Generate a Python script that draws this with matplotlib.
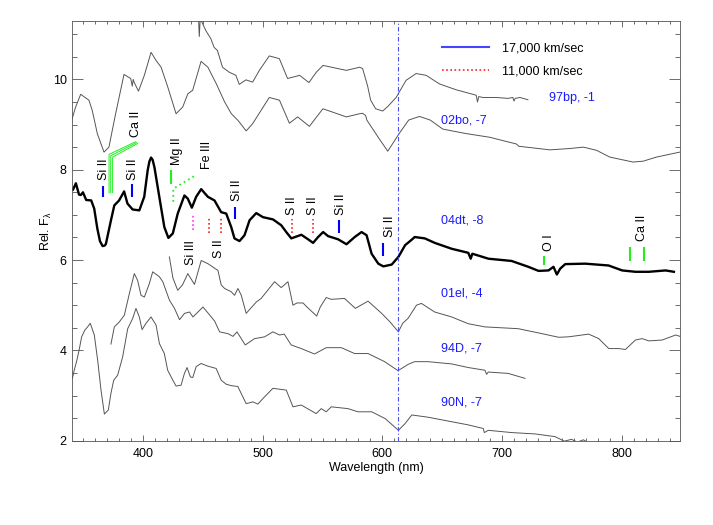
import numpy as np
import matplotlib
matplotlib.use("Agg")
import matplotlib.pyplot as plt
from matplotlib.lines import Line2D
from matplotlib.ticker import MultipleLocator

plt.rcParams['font.family'] = ['Liberation Sans', 'DejaVu Sans']
plt.rcParams['font.size'] = 9
plt.rcParams['mathtext.fontset'] = 'custom'
plt.rcParams['mathtext.rm'] = 'Liberation Sans'
plt.rcParams['mathtext.it'] = 'Liberation Sans'

# ---- spectra (wavelength nm, relative flux + offset) ----
wl_97bp = [446, 447, 447.8, 449, 452.5, 456.7, 459.4, 462.2, 466.4, 472, 477.6, 480.4, 486, 491.6,
           497.2, 505.5, 513.9, 520.8, 530.9, 538.6, 544.8, 550.4, 569.9, 581, 583.5, 587.7, 590.2,
           594.4, 600.3, 604.5, 611.5, 619.8, 628.2, 636.6, 647.7, 661.7, 678.4, 679.5, 680.5, 684,
           695, 705, 709, 710, 711, 715, 721.6]
fx_97bp = [11.6, 10.95, 11.35, 11.28, 11.08, 10.9, 10.71, 10.64, 10.27, 10.16, 10.09, 9.89, 9.99, 9.94,
           10.2, 10.52, 10.46, 10.02, 10.09, 9.93, 10.16, 10.31, 10.2, 10.27, 10.24, 9.85, 9.54,
           9.35, 9.3, 9.4, 9.6, 9.98, 10.13, 10.09, 9.9, 9.77, 9.65, 9.5, 9.62, 9.6,
           9.6, 9.58, 9.6, 9.52, 9.58, 9.6, 9.55]

wl_02bo = [340, 343.7, 347.9, 354.8, 357.6, 361.8, 367.4, 371.5, 377.1, 384.1, 389.7, 391, 391.8,
           392.5, 396.2, 401.1, 406.7, 410.9, 415.1, 420.7, 427.6, 433.2, 437.4, 441.5, 448.5, 454.2,
           461.3, 468.2, 473.8, 479.4, 486.2, 491.6, 505.5, 514, 522.3, 529.2, 539, 550.3, 569.9,
           581, 583.5, 586, 587, 589, 597, 604.5, 614, 622, 631, 640, 650.5, 670, 689.5, 712, 714,
           740, 756.5, 768, 779, 790, 809.5, 818, 829, 848.5]
fx_02bo = [9.06, 9.39, 9.67, 9.54, 9.31, 8.80, 8.39, 8.50, 9.24, 10.11, 10.02, 9.85, 10.0,
           9.94, 9.74, 10.09, 10.6, 10.42, 10.27, 9.83, 9.24, 9.39, 9.68, 9.76, 10.4, 10.27,
           9.9, 9.50, 9.24, 9.09, 8.86, 9.02, 9.60, 9.54, 9.03, 9.17, 8.96, 9.35, 9.17,
           9.24, 9.25, 9.2, 9.1, 9.02, 8.7, 8.41, 8.8, 9.1, 9.18, 9.1, 8.9, 8.8, 8.72, 8.57, 8.52,
           8.44, 8.47, 8.5, 8.43, 8.28, 8.17, 8.19, 8.28, 8.39]

wl_04dt = [341.5, 343.9, 346.5, 348.0, 349.8, 352.5, 356.7, 359.2, 361.8, 364.0, 366.2, 368.0, 369.0,
           373.2, 376.0, 380.0, 384.2, 387.0, 391.3, 396.9, 401.0, 403.9, 405.3, 406.7, 408.0, 409.5,
           413.6, 417.8, 421.2, 424.9, 429.0, 434.6, 437.4, 440.8, 444.4, 448.6, 454.2, 459.7, 465.3,
           469.5, 473.7, 476.4, 480.6, 484.8, 489.0, 494.6, 500.2, 508.6, 515.5, 519.7, 523.9, 532.3,
           537.9, 542.1, 546.3, 550.5, 554.6, 563.0, 570.0, 576.9, 582.6, 586.8, 591.0, 596.6, 600.8,
           607.8, 613.4, 619.0, 624.5, 627.0, 635.4, 643.8, 657.9, 671.8, 673.8, 675.2, 688.6, 708.0,
           722.0, 730.5, 738.8, 743.0, 745.8, 748.6, 752.8, 769.5, 789.0, 800.4, 811.5, 822.7, 836.6,
           843.6]
fx_04dt = [7.56, 7.70, 7.45, 7.44, 7.50, 7.33, 7.32, 7.14, 6.70, 6.42, 6.31, 6.32, 6.36,
           6.88, 7.21, 7.32, 7.52, 7.25, 7.12, 7.10, 7.40, 7.99, 8.18, 8.27, 8.22, 8.06,
           7.40, 6.73, 6.49, 6.59, 7.03, 7.43, 7.36, 7.16, 7.40, 7.57, 7.40, 7.32, 7.06,
           7.03, 6.73, 6.48, 6.42, 6.55, 6.88, 7.04, 6.95, 6.90, 6.77, 6.62, 6.48, 6.56,
           6.46, 6.38, 6.51, 6.62, 6.53, 6.46, 6.35, 6.51, 6.62, 6.55, 6.14, 5.92, 5.86,
           5.90, 6.07, 6.33, 6.45, 6.51, 6.48, 6.38, 6.25, 6.16, 6.03, 6.14, 6.03, 5.98,
           5.85, 5.76, 5.77, 5.85, 5.68, 5.81, 5.91, 5.92, 5.88, 5.77, 5.74, 5.74, 5.77,
           5.74]

wl_01el = [422.0, 425, 429, 433, 437.4, 443, 448.6, 454.2, 462.6, 465.3, 468.2, 473.6, 476.5, 479.3,
           482.1, 486.2, 494.6, 498.7, 509.9, 515.5, 521.1, 525.3, 528.6, 533.7, 537.0, 545.1, 548.1,
           553.1, 557.3, 568.4, 577.4, 588, 599.4, 606.4, 613.4, 617, 621.5, 628.5, 632.6, 643.7,
           657.9, 671.8, 685.7, 713.6, 733.4, 747.3, 755.6, 772.4, 780.8, 789.2, 797.6, 803.1, 811.5,
           817.1, 822.7, 833.9, 845, 850]
fx_01el = [6.07, 5.6, 5.33, 5.45, 5.70, 5.46, 5.99, 5.92, 5.77, 5.45, 5.37, 5.30, 5.22, 5.37,
           5.22, 4.82, 5.07, 5.15, 5.52, 5.39, 5.52, 5.0, 5.05, 5.05, 4.96, 4.76, 4.96,
           5.17, 5.13, 5.15, 4.93, 5.09, 4.82, 4.63, 4.41, 4.6, 4.71, 5.0, 5.04, 4.85,
           4.74, 4.59, 4.52, 4.48, 4.37, 4.29, 4.30, 4.36, 4.26, 4.04, 4.04, 4.02, 4.23,
           4.26, 4.21, 4.23, 4.34, 4.30]

wl_94D = [373.2, 376, 380.2, 384.4, 388.6, 392.7, 395.5, 398.3, 401.1, 405.3, 408.1, 413.7, 416.5,
          422.1, 426.3, 430.5, 434.7, 438.9, 441.7, 445.9, 450.1, 454.2, 459.8, 464, 471, 475.2,
          478.5, 482.1, 485.4, 493.2, 501.6, 508.5, 514.1, 518, 523.8, 532.2, 543.3, 553.1, 565.7,
          576.8, 588, 601.9, 613.1, 621.5, 627, 638.2, 657.9, 671.8, 685.7, 687.1, 688.5, 705.2, 719.2]
fx_94D = [4.14, 4.52, 4.63, 4.78, 5.26, 5.70, 5.55, 5.22, 5.18, 5.48, 5.74, 5.63, 5.52,
          5.11, 4.93, 4.68, 4.82, 4.85, 4.74, 4.85, 4.96, 4.83, 4.65, 4.41, 4.37, 4.31,
          4.41, 4.26, 4.12, 4.26, 4.30, 4.41, 4.34, 4.36, 4.12, 4.04, 3.92, 4.06, 4.06,
          3.93, 3.93, 3.75, 3.55, 3.69, 3.75, 3.75, 3.70, 3.62, 3.56, 3.47, 3.52, 3.49, 3.38]

wl_90N = [341, 342.5, 344.7, 346.7, 348.7, 351.4, 353.7, 355.9, 359.3, 362.1, 364.9, 367.7, 371,
          373.2, 375.5, 378.8, 383, 387.2, 391.4, 394.1, 396.9, 399.2, 402.5, 406.7, 410.9, 413.7,
          417.8, 420.6, 424.9, 427.6, 431.8, 434.6, 436.8, 439.6, 441.6, 444.4, 448.5, 454.2, 461.1,
          465.3, 469.5, 473.6, 479.2, 486.2, 491.8, 495.9, 501.5, 508.5, 519.7, 525.3, 532.2, 544.7,
          548.9, 553.1, 557.3, 571.3, 579.6, 591.1, 602.3, 613.4, 619, 624.6, 638.2, 657.9, 671.8,
          684.3, 685.2, 688.5, 708, 727.6, 744.3, 752, 758, 763, 768, 775, 800, 850]
fx_90N = [3.38, 3.56, 3.78, 4.02, 4.30, 4.45, 4.52, 4.60, 4.34, 3.78, 3.12, 2.59, 2.68,
          3.05, 3.34, 3.45, 3.86, 4.48, 4.71, 4.93, 4.74, 4.46, 4.60, 4.74, 4.56, 4.15,
          3.93, 3.56, 3.34, 3.21, 3.23, 3.49, 3.62, 3.41, 3.40, 3.64, 3.71, 3.65, 3.60,
          3.34, 3.25, 3.22, 3.20, 2.82, 2.86, 2.81, 2.97, 3.16, 3.12, 2.75, 2.79, 2.60,
          2.71, 2.64, 2.75, 2.71, 2.64, 2.64, 2.49, 2.23, 2.38, 2.57, 2.52, 2.42, 2.35,
          2.27, 2.18, 2.23, 2.18, 2.15, 2.09, 1.99, 2.03, 1.97, 2.02, 1.9, 1.8, 1.7]

names = ["97bp, -1", "02bo, -7", "04dt, -8", "01el, -4", "94D, -7", "90N, -7"]
name_x = [739, 649, 649, 649, 649, 649]
name_y = [9.59, 9.09, 6.87, 5.26, 4.04, 2.85]

# ---- line identifications ----
# 17,000 km/s Si II (blue)
si_wl = [366.7, 390.5, 476.8, 564.0, 600.8]
si_lo = [7.40, 7.40, 6.90, 6.59, 6.08]
si_hi = [7.65, 7.69, 7.17, 6.88, 6.38]
si_lab_wl = [367.7, 392.0, 478.3, 565.2, 606.3]
si_lab_y = [7.77, 7.77, 7.30, 6.99, 6.51]

# 11,000 km/s S II (red dotted)
s_wl = [455.5, 465.3, 524.4, 541.7]
s_lo = [6.59, 6.59, 6.59, 6.59]
s_hi = [6.94, 6.94, 6.90, 6.90]
s_lab_wl = [463.6, 524.4, 541.7]
s_lab_y = [6.45, 6.99, 6.99]
s_lab_va = ["top", "bottom", "bottom"]

# Si III (magenta dotted)
si3_wl = 441.5
si3_lo, si3_hi = 6.66, 7.0
si3_lab = (440.5, 6.45)

# Ca II H&K (green, bent)
cahk_wl = [371.6, 373.0, 374.6]
cahk_lo = 7.49
cahk_knee = [8.34, 8.31, 8.28]
cahk_end_wl = [393.8, 394.6, 395.4]
cahk_end_y = [8.62, 8.60, 8.58]
cahk_lab = (394.0, 8.72)

mg_wl, mg_lo, mg_hi = 423.7, 7.69, 7.99
fe_wl, fe_lo, fe_knee = 425.3, 7.29, 7.58
fe_end = (444.1, 7.88)
mg_lab = (428.3, 8.10)
fe_lab = (453.3, 8.02)

oi_wl, oi_lo, oi_hi = 734.7, 5.88, 6.08
oi_lab = (739.6, 6.20)
cair_wl = [807.3, 818.7]
cair_lo, cair_hi = 5.98, 6.28
cair_lab = (816.7, 6.42)

si_min_wl = 613.0

gray = "#555555"
blue = "#1a1aff"
green = "#22ee22"

fig = plt.figure(figsize=(7.13, 5.25), dpi=100)
ax = fig.add_axes([72.3 / 713, 1 - 440.7 / 525, 607.7 / 713, 420 / 525])

for w, f in [(wl_97bp, fx_97bp), (wl_02bo, fx_02bo), (wl_01el, fx_01el), (wl_94D, fx_94D), (wl_90N, fx_90N)]:
    ax.plot(w, f, color=gray, lw=0.7)
ax.plot(wl_04dt, fx_04dt, color="black", lw=1.7)

for n, x, y in zip(names, name_x, name_y):
    ax.text(x, y, n, color=blue, ha="left", va="center")

ax.axvline(si_min_wl, color="#4a4aff", lw=0.8, ls=(0, (4, 2, 1, 2)))

# Si II
ax.vlines(si_wl, si_lo, si_hi, color="#0000ff", lw=1.5)
for x, y in zip(si_lab_wl, si_lab_y):
    ax.text(x, y, "Si II", rotation=90, ha="center", va="bottom")

# S II
ax.vlines(s_wl, s_lo, s_hi, color="#ff2020", lw=1.2, linestyles=(0, (1, 1.5)))
for x, y, va in zip(s_lab_wl, s_lab_y, s_lab_va):
    ax.text(x, y, "S II", rotation=90, ha="center", va=va)

# Si III
ax.vlines([si3_wl], si3_lo, si3_hi, color="#ff33ff", lw=1.2, linestyles=(0, (1, 1.5)))
ax.text(si3_lab[0], si3_lab[1], "Si III", rotation=90, ha="center", va="top")

# Ca II H&K
for x, k, ex, ey in zip(cahk_wl, cahk_knee, cahk_end_wl, cahk_end_y):
    ax.plot([x, x, ex], [cahk_lo, k, ey], color=green, lw=0.7)
ax.text(cahk_lab[0], cahk_lab[1], "Ca II", rotation=90, ha="center", va="bottom")

# Mg II / Fe III
ax.vlines([mg_wl], mg_lo, mg_hi, color=green, lw=1.5)
ax.plot([fe_wl, fe_wl, fe_end[0]], [fe_lo, fe_knee, fe_end[1]], color=green, lw=1.3, ls=(0, (1, 1.8)))
ax.text(mg_lab[0], mg_lab[1], "Mg II", rotation=90, ha="center", va="bottom")
ax.text(fe_lab[0], fe_lab[1], "Fe III", rotation=90, ha="center", va="bottom")

# O I and Ca II IR
ax.vlines([oi_wl], oi_lo, oi_hi, color=green, lw=1.5)
ax.text(oi_lab[0], oi_lab[1], "O I", rotation=90, ha="center", va="bottom")
ax.vlines(cair_wl, cair_lo, cair_hi, color=green, lw=1.5)
ax.text(cair_lab[0], cair_lab[1], "Ca II", rotation=90, ha="center", va="bottom")

handles = [Line2D([], [], color="#4444ff", lw=1.5),
           Line2D([], [], color="#ff2020", lw=1.2, ls=(0, (1, 1.5)))]
ax.legend(handles, ["17,000 km/sec", "11,000 km/sec"], loc="upper left",
          bbox_to_anchor=(0.608, 0.948), frameon=False, handlelength=3.8,
          handletextpad=1.0, labelspacing=0.85, borderpad=0, borderaxespad=0)

ax.set_xlim(340.9, 848.7)
ax.set_ylim(2, 11.3)
ax.xaxis.set_major_locator(MultipleLocator(100))
ax.xaxis.set_minor_locator(MultipleLocator(10))
ax.yaxis.set_major_locator(MultipleLocator(2))
ax.yaxis.set_minor_locator(MultipleLocator(0.5))
ax.tick_params(which="both", direction="in", top=True, right=True, color="#555555", width=0.6)
ax.xaxis.set_tick_params(which="major", length=4.5, pad=5)
ax.xaxis.set_tick_params(which="minor", length=2.4)
ax.yaxis.set_tick_params(which="major", length=8, pad=4)
ax.yaxis.set_tick_params(which="minor", length=3.6)
for s in ax.spines.values():
    s.set_color("#555555")
    s.set_linewidth(0.6)

ax.set_xlabel("Wavelength (nm)", labelpad=2)
ax.set_ylabel(r"Rel. F$_{\lambda}$", labelpad=-1)

fig.savefig("out.png", dpi=100)
